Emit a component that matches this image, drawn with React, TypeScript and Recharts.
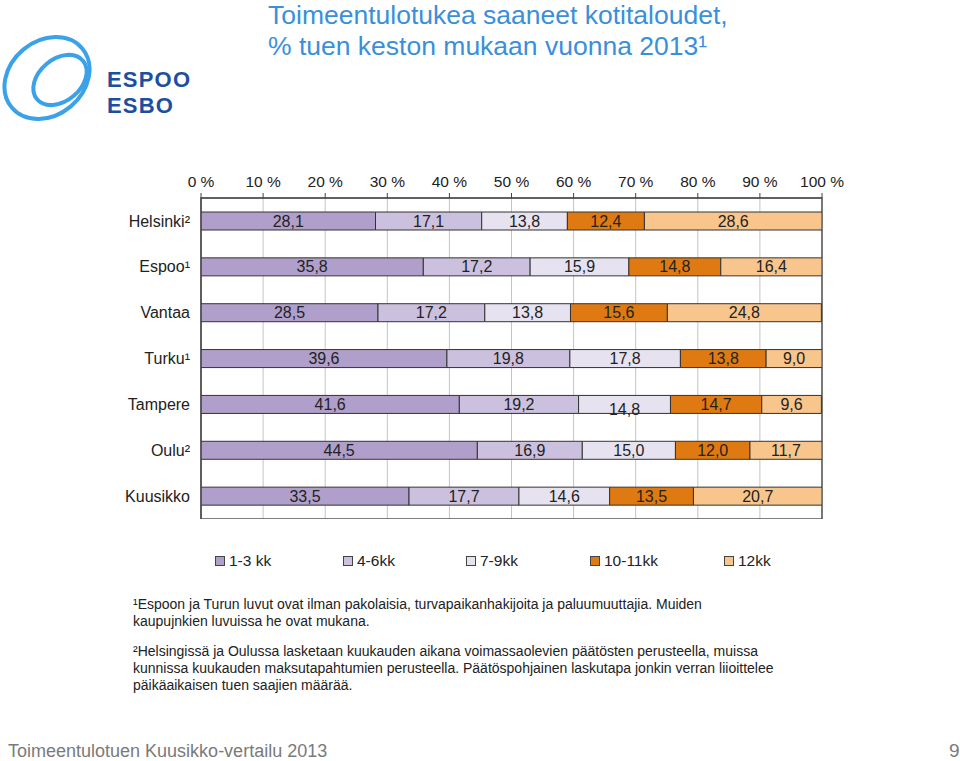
import React from 'react';
import {
  BarChart,
  Bar,
  XAxis,
  YAxis,
  CartesianGrid,
  LabelList,
  ReferenceArea,
} from 'recharts';

const cities = ['Helsinki²', 'Espoo¹', 'Vantaa', 'Turku¹', 'Tampere', 'Oulu²', 'Kuusikko'];
const kk1to3 = [28.1, 35.8, 28.5, 39.6, 41.6, 44.5, 33.5];
const kk4to6 = [17.1, 17.2, 17.2, 19.8, 19.2, 16.9, 17.7];
const kk7to9 = [13.8, 15.9, 13.8, 17.8, 14.8, 15.0, 14.6];
const kk10to11 = [12.4, 14.8, 15.6, 13.8, 14.7, 12.0, 13.5];
const kk12 = [28.6, 16.4, 24.8, 9.0, 9.6, 11.7, 20.7];
const percentTicks = [0, 10, 20, 30, 40, 50, 60, 70, 80, 90, 100];

const series = [
  { key: 'a', name: '1-3 kk', values: kk1to3, color: '#b09fca' },
  { key: 'b', name: '4-6kk', values: kk4to6, color: '#cbc0dd' },
  { key: 'c', name: '7-9kk', values: kk7to9, color: '#e6e2f0' },
  { key: 'd', name: '10-11kk', values: kk10to11, color: '#df7a12' },
  { key: 'e', name: '12kk', values: kk12, color: '#f8c58c' },
];

const data = cities.map((name, i) => {
  const row: Record<string, string | number> = { name };
  series.forEach((s) => {
    row[s.key] = s.values[i];
  });
  return row;
});

const fmt = (v: unknown) => Number(v).toFixed(1).replace('.', ',');

const font = '"Liberation Sans", Arial, sans-serif';

// in the original the Tampere 7-9kk label sits a bit low
const BarLabel = (props: any) => {
  const { x, y, width, height, value, index, seriesKey } = props;
  const drop = seriesKey === 'c' && index === 4 ? 5 : 0;
  return (
    <text
      x={x + width / 2}
      y={y + height / 2 + drop}
      textAnchor="middle"
      dominantBaseline="central"
      fill="#222"
      fontSize={16}
      fontFamily={font}
    >
      {fmt(value)}
    </text>
  );
};

const Logo = () => (
  <svg width={200} height={140} style={{ position: 'absolute', left: 0, top: 0 }}>
    <g fill="none" stroke="#3ba2ea" strokeWidth={4}>
      <ellipse cx={47} cy={78} rx={46} ry={37} transform="rotate(-40 47 78)" />
      <ellipse cx={60} cy={80} rx={30} ry={21} transform="rotate(-40 60 80)" />
    </g>
    <text x={107} y={87} fontFamily={font} fontWeight="bold" fontSize={22} letterSpacing={1.2} fill="#1c4fa1">ESPOO</text>
    <text x={107} y={113} fontFamily={font} fontWeight="bold" fontSize={22} letterSpacing={1.2} fill="#1c4fa1">ESBO</text>
  </svg>
);

export default function App() {
  return (
    <div style={{ position: 'absolute', left: 0, top: 0, width: 960, height: 761, background: '#fff', fontFamily: font, overflow: 'hidden' }}>
      <Logo />
      <div style={{ position: 'absolute', left: 268, top: 0, color: '#3a8fdb', fontSize: 26.5, lineHeight: '31px' }}>
        Toimeentulotukea saaneet kotitaloudet,
        <br />% tuen keston mukaan vuonna 2013¹
      </div>

      <div style={{ position: 'absolute', left: 0, top: 150 }}>
        <BarChart
          width={860}
          height={369}
          data={data}
          layout="vertical"
          margin={{ top: 18, right: 38, bottom: 0, left: 0 }}
        >
          <CartesianGrid horizontal={false} stroke="#c4c4c4" />
          <XAxis
            type="number"
            orientation="top"
            domain={[0, 100]}
            ticks={percentTicks}
            allowDataOverflow
            height={30}
            tickFormatter={(v) => `${v} %`}
            tick={{ fill: '#222', fontSize: 15.5, fontFamily: font }}
            tickSize={5}
            tickMargin={6}
            stroke="#444"
          />
          <YAxis
            type="category"
            dataKey="name"
            width={201}
            tickLine={false}
            tickSize={0}
            tickMargin={11}
            tick={{ fill: '#222', fontSize: 16, fontFamily: font }}
            stroke="#444"
          />
          {series.map((s) => (
            <Bar
              key={s.key}
              dataKey={s.key}
              name={s.name}
              stackId="x"
              fill={s.color}
              stroke="#333"
              strokeWidth={1}
              barSize={18}
              isAnimationActive={false}
            >
              <LabelList dataKey={s.key} content={(p: any) => <BarLabel {...p} seriesKey={s.key} />} />
            </Bar>
          ))}
          <ReferenceArea x1={0} x2={100} stroke="#555" strokeWidth={1.5} fill="none" fillOpacity={0} ifOverflow="visible" />
        </BarChart>
      </div>

      <div style={{ position: 'absolute', left: 0, top: 551, width: 960, height: 20 }}>
        {series.map((s, i) => (
          <div
            key={s.key}
            style={{
              position: 'absolute',
              left: [215, 343, 466, 590, 724][i],
              top: 0,
              display: 'flex',
              alignItems: 'center',
              fontSize: 15.5,
              color: '#222',
              height: 20,
            }}
          >
            <span style={{ width: 8, height: 8, background: s.color, border: '1px solid #444', marginRight: 4 }} />
            {s.name}
          </div>
        ))}
      </div>

      <div style={{ position: 'absolute', left: 133, top: 596, fontSize: 14, lineHeight: '17px', color: '#222', whiteSpace: 'nowrap' }}>
        <div>¹Espoon ja Turun luvut ovat ilman pakolaisia, turvapaikanhakijoita ja paluumuuttajia. Muiden</div>
        <div>kaupujnkien luvuissa he ovat mukana.</div>
        <div style={{ height: 13 }} />
        <div>²Helsingissä ja Oulussa lasketaan kuukauden aikana voimassaolevien päätösten perusteella, muissa</div>
        <div>kunnissa kuukauden maksutapahtumien perusteella. Päätöspohjainen laskutapa jonkin verran liioittelee</div>
        <div>päikäaikaisen tuen saajien määrää.</div>
      </div>

      <div style={{ position: 'absolute', left: 8, top: 741, fontSize: 18, color: '#7a7a7a' }}>
        Toimeentulotuen Kuusikko-vertailu 2013
      </div>
      <div style={{ position: 'absolute', left: 949, top: 740, fontSize: 19, color: '#7a7a7a' }}>9</div>
    </div>
  );
}
